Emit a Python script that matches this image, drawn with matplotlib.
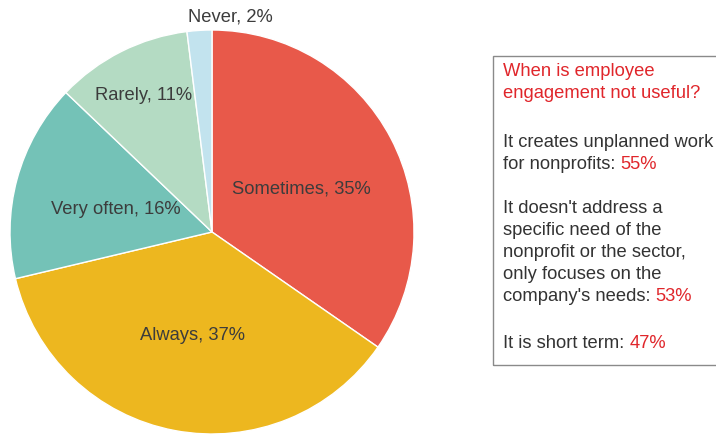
import numpy as np
import matplotlib
matplotlib.use("Agg")
import matplotlib.pyplot as plt
from matplotlib.patches import Rectangle

plt.rcParams['font.family'] = ['Liberation Sans', 'DejaVu Sans']

# survey answers, clockwise from 12 o'clock
labels = ["Sometimes", "Always", "Very often", "Rarely", "Never"]
shares = [35, 37, 16, 11, 2]
colors = ["#E8594A", "#EDB71F", "#74C2B7", "#B4DBC3", "#C2E3EE"]
label_radius = [0.49, 0.52, 0.49, 0.755, 1.07]
label_turn = [-2, 0, 2, 0, -8.5]   # degrees, nudges off the wedge middle

# side box text
box_title = ["When is employee", "engagement not useful?"]
reasons = [["It creates unplanned work", "for nonprofits: "],
           ["It doesn't address a", "specific need of the",
            "nonprofit or the sector,", "only focuses on the",
            "company's needs: "],
           ["It is short term: "]]
reason_pct = [55, 53, 47]

W, H = 716, 436
fig = plt.figure(figsize=(W / 100, H / 100), dpi=100)

# pie axes: centre (212, 232) px from top-left, radius 202 px
cx, cy, r = 212, 232, 202
ax = fig.add_axes([(cx - r) / W, (H - cy - r) / H, 2 * r / W, 2 * r / H])
wedges, _ = ax.pie(shares, colors=colors, startangle=90, counterclock=False,
                   wedgeprops=dict(edgecolor="white", linewidth=1))
ax.set_xlim(-1, 1)
ax.set_ylim(-1, 1)
ax.set_aspect("equal")
ax.axis("off")

fs = 13.2
for w, lab, val, rad, turn in zip(wedges, labels, shares, label_radius, label_turn):
    mid = np.deg2rad((w.theta1 + w.theta2) / 2 + turn)
    ax.text(rad * np.cos(mid), rad * np.sin(mid), f"{lab}, {val}%",
            ha="center", va="center", fontsize=fs, color="#3c3c3c")

# side box
fig.patches.append(Rectangle((493 / W, (H - 365) / H), 300 / W, 309 / H,
                             transform=fig.transFigure, fill=False,
                             edgecolor="#8a8a8a", linewidth=1))

red = "#E0262B"
dark = "#333333"
tx = 503 / W
step = 22


def line(y, s, color):
    return fig.text(tx, 1 - y / H, s, color=color, fontsize=fs,
                    va="baseline", ha="left")


for i, s in enumerate(box_title):
    line(76 + i * step, s, red)

starts = [147, 213, 348]
for block, pct, y0 in zip(reasons, reason_pct, starts):
    for i, s in enumerate(block):
        t = line(y0 + i * step, s, dark)
    # red figure right after the block's last line
    ax.annotate(f"{pct}%", xy=(1, 0), xycoords=t, xytext=(0, 0),
                textcoords="offset points", va="bottom", ha="left",
                fontsize=fs, color=red, annotation_clip=False)

fig.savefig("out.png", dpi=100)
